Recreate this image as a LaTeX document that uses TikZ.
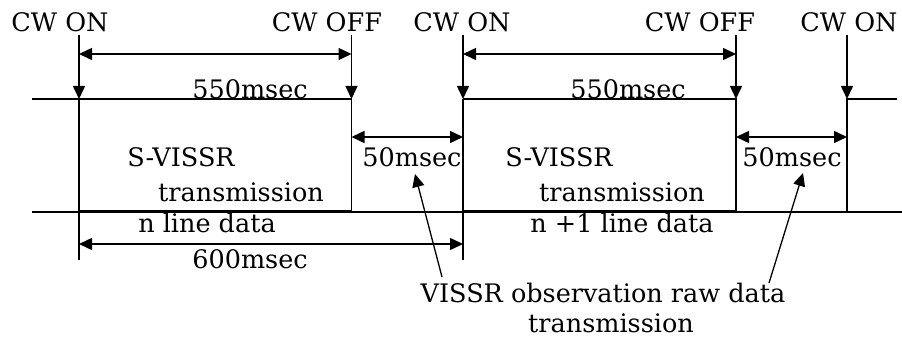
\documentclass[tikz,border=0pt]{standalone}
\usepackage{fontspec}
\setmainfont{DejaVu Serif}
\usetikzlibrary{arrows.meta,positioning,calc}

\begin{document}
\begin{tikzpicture}[
  x=1pt, y=-1pt,
  font=\fontsize{25.5}{30}\selectfont,
  >={Triangle[length=13pt,width=12pt]},
  sig/.style ={line width=1.5pt},
  data/.style={line width=3pt},
  cwline/.style={->, line width=1.5pt},
  dim/.style ={<->, line width=1.5pt},
  note/.style={->, line width=1.3pt},
  lbl/.style ={inner sep=0pt, anchor=base},
]
\useasboundingbox (0,0) rectangle (902,339);

% ---------- Levels and edges ----------
\coordinate (top)  at (0,35);
\coordinate (hi)   at (32,99);
\coordinate (lo)   at (32,212);
\coordinate (ext)  at (0,260);
\coordinate (d550) at (0,54);
\coordinate (d50)  at (0,137);
\coordinate (d600) at (0,244);

\coordinate (on1)  at (79,99);
\coordinate (off1) at (351.5,99);
\coordinate (on2)  at (463,99);
\coordinate (off2) at (736,99);
\coordinate (on3)  at (847,99);
\coordinate (hiend) at (897,99);
\coordinate (loend) at (902,212);

% ---------- CW labels ----------
\node[lbl] (cwon1)  at (60,32)  {CW ON};
\node[lbl] (cwoff1) at (327,32) {CW OFF};
\node[lbl] (cwon2)  at (462,32) {CW ON};
\node[lbl] (cwoff2) at (700,32) {CW OFF};
\node[lbl] (cwon3)  at (849,32) {CW ON};

\foreach \e in {on1,off1,on2,off2,on3}
  \draw[cwline] (\e |- top) -- (\e);

% ---------- Signal ----------
\draw[sig] (hi) -- (off1) -- (off1 |- lo);
\draw[sig] (on1) -- (on1 |- ext);
\draw[sig] (on2) -- (off2) -- (off2 |- lo);
\draw[sig] (on2) -- (on2 |- ext);
\draw[sig] (hiend) -- (on3) -- (on3 |- lo);
\draw[sig] (lo) -- (loend);
\draw[data] (on1 |- lo) -- (off1 |- lo);
\draw[data] (on2 |- lo) -- (off2 |- lo);

% ---------- Durations ----------
\draw[dim] (on1 |- d550) -- (off1 |- d550);
\draw[dim] (on2 |- d550) -- (off2 |- d550);
\draw[dim] (off1 |- d50) -- (on2 |- d50);
\draw[dim] (off2 |- d50) -- (on3 |- d50);
\draw[dim] (on1 |- d600) -- (on2 |- d600);

\node[lbl] (t550a) at (250,99) {550msec};
\node[lbl] (t550b) at (628,99) {550msec};
\node[lbl] (ms1)   at (412,167) {50msec};
\node[lbl] (ms2)   at (792,167) {50msec};
\node[lbl] (t600)  at (250,268) {600msec};

% ---------- Frame texts ----------
\node[lbl] (sv1)  at (181,167) {S-VISSR};
\node[lbl] (tr1)  at (241,202) {transmission};
\node[lbl] (sv2)  at (559,167) {S-VISSR};
\node[lbl] (tr2)  at (622,202) {transmission};
\node[lbl] (ln1)  at (207,233) {n line data};
\node[lbl] (ln2)  at (622,233) {n +1 line data};

% ---------- Raw data note ----------
\node[lbl] (raw)  at (603,302) {VISSR observation raw data};
\node[lbl] (raw2) at (611,332) {transmission};

\coordinate (p1) at (442,277);
\coordinate (p2) at (769,283);
\coordinate (q1) at (415,174);
\coordinate (q2) at (803,173);
\draw[note] (p1) -- (q1);
\draw[note] (p2) -- (q2);

\end{tikzpicture}
\end{document}
